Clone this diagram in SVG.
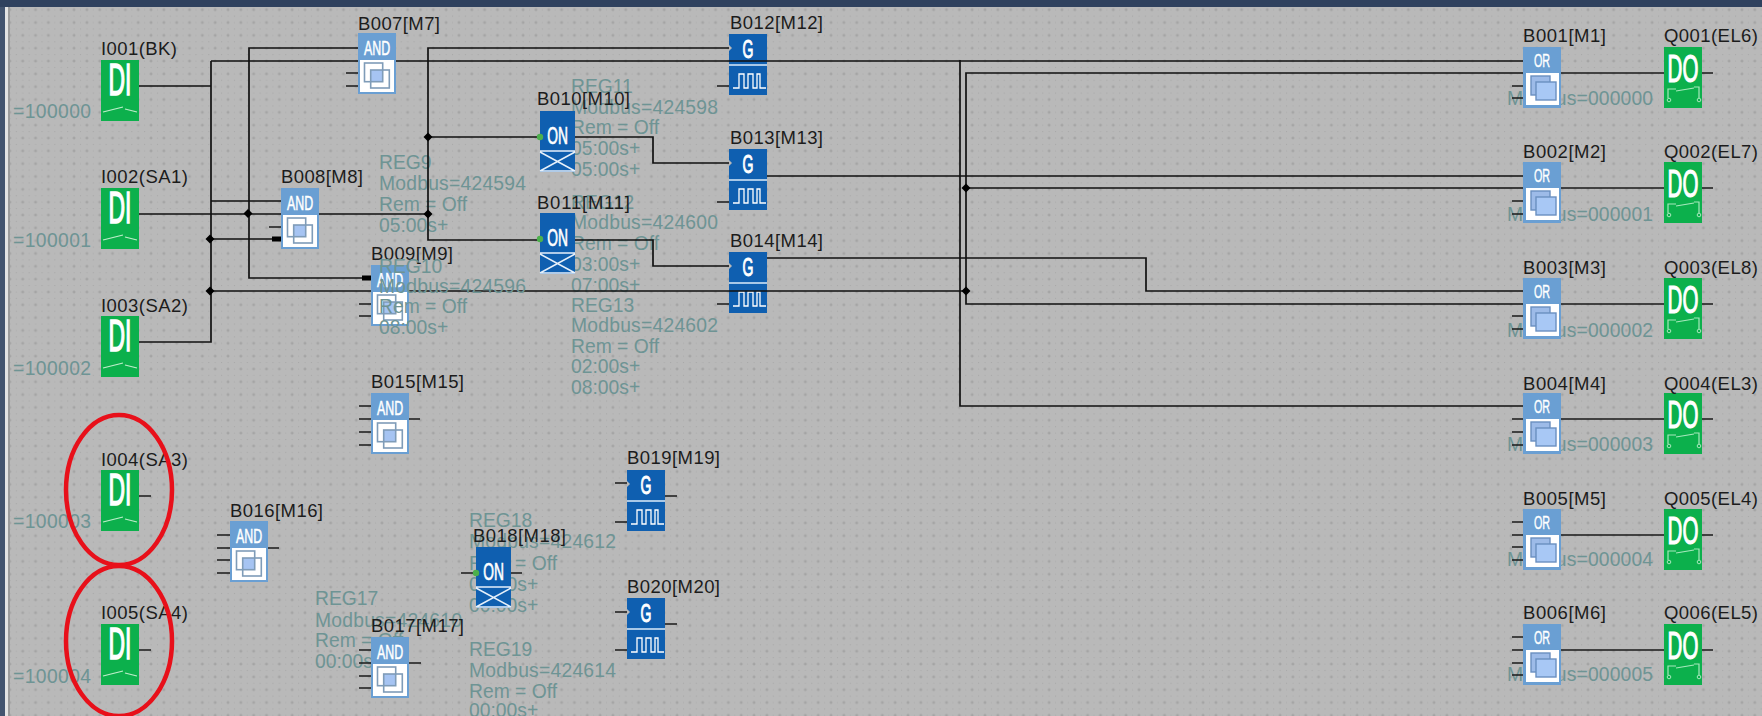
<svg xmlns="http://www.w3.org/2000/svg" width="1762" height="716" viewBox="0 0 1762 716">
<style>
.n{font-family:"Liberation Sans",Arial,sans-serif;font-size:18.500px;fill:#1c1c1c}
.r{font-family:"Liberation Sans",Arial,sans-serif;font-size:19.3px;fill:#6e9494}
.b{font-family:"Liberation Sans",Arial,sans-serif;fill:#fff;text-anchor:middle}
.di{font-size:44px;stroke:#fff;stroke-width:1.6px}
.do{font-size:38px;stroke:#fff;stroke-width:1.2px}
.and{font-size:20px;stroke:#fff;stroke-width:.5px}
.or{font-size:18px;stroke:#fff;stroke-width:.4px}
.on{font-size:23px;stroke:#fff;stroke-width:.7px}
.g{font-size:25px;stroke:#fff;stroke-width:1px}
.w{fill:none;stroke:#111;stroke-width:1.7}
.s{fill:none;stroke:#1a1a1a;stroke-width:1.7}
.j{fill:#000}
.ring{fill:none;stroke:#e8101a;stroke-width:4.5}
</style>
<defs>
<pattern id="grid" x="7.9" y="7.7" width="12.83" height="12.83" patternUnits="userSpaceOnUse">
<path d="M0.5 2H3.5M2 0.5V3.5" stroke="#999" stroke-width="0.8"/>
<rect x="8" y="8" width="1" height="1" fill="#a4a4a4"/>
<rect x="8" y="1.6" width="1" height="1" fill="#a9a9a9"/>
<rect x="1.6" y="8" width="1" height="1" fill="#a9a9a9"/>
</pattern>
<g id="di"><rect width="38" height="61" fill="#0cb04c"/><path d="M2 52L14 49L22 47M24 49L36 52" fill="none" stroke="#bfeecb" stroke-width="1.2"/></g>
<g id="do"><rect width="38" height="61" fill="#0cb04c"/><path d="M4 51V42H12M12 44L30 41M35 51V40H30" fill="none" stroke="#a8e8bc" stroke-width="1.2"/><circle cx="5" cy="53" r="1.800" fill="none" stroke="#a8e8bc"/><circle cx="35" cy="53" r="1.800" fill="none" stroke="#a8e8bc"/></g>
<g id="and"><rect width="38" height="61" fill="#6a9fd3"/><rect x="2" y="27" width="34" height="32" fill="#fff"/><rect x="12.7" y="37" width="12" height="11.7" fill="#a6c4f2"/><rect x="6.5" y="30" width="18.2" height="18.7" fill="none" stroke="#7f9cb8" stroke-width="1.6"/><rect x="12.7" y="37" width="18.6" height="18" fill="none" stroke="#7f9cb8" stroke-width="1.6"/></g>
<g id="or"><rect width="38" height="61" fill="#6a9fd3"/><rect x="3" y="26" width="33" height="32" fill="#fff"/><rect x="8" y="29" width="19" height="19" fill="#9dbbe8" stroke="#6a8fc0" stroke-width="1.4"/><rect x="13" y="35" width="20" height="18" fill="#a8c8f5" stroke="#6a8fc0" stroke-width="1.4"/></g>
<g id="on"><rect width="35" height="61" fill="#0f5fb0"/><path d="M0 40H35M0 60H35M0 41L35 60M0 60L35 41" fill="none" stroke="#e6f0fa" stroke-width="1.5"/><circle cx="0" cy="26" r="3.2" fill="#4cb04c"/></g>
<g id="g"><rect width="38" height="61" fill="#0f5fb0"/><path d="M0 31H38" stroke="#dcebfa" stroke-width="1.6"/><path d="M4 54H10V40H15V54H19V40H24V54H28V40H31V54H37" fill="none" stroke="#fff" stroke-width="1.3"/><path d="M0 11L3 14L0 17Z" fill="#b9b9b9"/></g>
</defs>

<rect width="1762" height="716" fill="#b9b9b9"/>
<rect width="1762" height="716" fill="url(#grid)"/>
<rect x="5" y="7" width="3" height="709" fill="#e4e4e4"/>
<rect x="8" y="7" width="2" height="709" fill="#9c9c9c"/>
<rect x="0" y="0" width="5" height="716" fill="#43546f"/>
<rect x="0" y="0" width="1762" height="7" fill="#2f415e"/>

<g id="B012"><use href="#g" x="729" y="34"/><text class="b g" transform="translate(748,58) scale(.56,1)">G</text><text class="n" x="730" y="29" textLength="93">B012[M12]</text></g>
<g id="B013"><use href="#g" x="729" y="149"/><text class="b g" transform="translate(748,173) scale(.56,1)">G</text><text class="n" x="730" y="144" textLength="93">B013[M13]</text></g>
<g id="B014"><use href="#g" x="729" y="252"/><text class="b g" transform="translate(748,276) scale(.56,1)">G</text><text class="n" x="730" y="247" textLength="93">B014[M14]</text></g>

<g id="registers">
<text class="r" x="13" y="118" textLength="78">=100000</text>
<text class="r" x="13" y="247" textLength="78">=100001</text>
<text class="r" x="13" y="375" textLength="78">=100002</text>
<text class="r" x="13" y="528" textLength="78">=100003</text>
<text class="r" x="13" y="683" textLength="78">=100004</text>
<text class="r" x="1507" y="105" textLength="146">Modbus=000000</text>
<text class="r" x="1507" y="221" textLength="146">Modbus=000001</text>
<text class="r" x="1507" y="337" textLength="146">Modbus=000002</text>
<text class="r" x="1507" y="451" textLength="146">Modbus=000003</text>
<text class="r" x="1507" y="566" textLength="146">Modbus=000004</text>
<text class="r" x="1507" y="681" textLength="146">Modbus=000005</text>
<text class="r" x="379" y="169">REG9</text>
<text class="r" x="379" y="190" textLength="147">Modbus=424594</text>
<text class="r" x="379" y="211">Rem = Off</text>
<text class="r" x="379" y="232">05:00s+</text>
<text class="r" x="571" y="93">REG11</text>
<text class="r" x="571" y="114" textLength="147">Modbus=424598</text>
<text class="r" x="571" y="134">Rem = Off</text>
<text class="r" x="571" y="155">05:00s+</text>
<text class="r" x="571" y="176">05:00s+</text>
<text class="r" x="571" y="209">REG12</text>
<text class="r" x="571" y="229" textLength="147">Modbus=424600</text>
<text class="r" x="571" y="250">Rem = Off</text>
<text class="r" x="571" y="271">03:00s+</text>
<text class="r" x="571" y="292">07:00s+</text>
<text class="r" x="571" y="312">REG13</text>
<text class="r" x="571" y="332" textLength="147">Modbus=424602</text>
<text class="r" x="571" y="353">Rem = Off</text>
<text class="r" x="571" y="373">02:00s+</text>
<text class="r" x="571" y="394">08:00s+</text>
<text class="r" x="315" y="605">REG17</text>
<text class="r" x="315" y="627" textLength="147">Modbus=424610</text>
<text class="r" x="315" y="647">Rem = Off</text>
<text class="r" x="315" y="668">00:00s+</text>
<text class="r" x="469" y="527">REG18</text>
<text class="r" x="469" y="548" textLength="147">Modbus=424612</text>
<text class="r" x="469" y="570">Rem = Off</text>
<text class="r" x="469" y="591">00:00s+</text>
<text class="r" x="469" y="612">00:00s+</text>
<text class="r" x="469" y="656">REG19</text>
<text class="r" x="469" y="677" textLength="147">Modbus=424614</text>
<text class="r" x="469" y="698">Rem = Off</text>
<text class="r" x="469" y="717">00:00s+</text>
</g>

<g id="connectors">
<path class="w" d="M139 86H211M211 61V342H139M211 61H1523"/>
<path class="w" d="M358 48H249V278H365"/>
<path class="w" d="M139 214H428"/>
<path class="w" d="M211 201H281M211 239H275"/>
<path class="w" d="M211 291H966"/>
<path class="w" d="M729 48H428V240H540M428 137H540"/>
<path class="w" d="M575 137H653V163H729M575 240H653V266H729"/>
<path class="w" d="M960 60V406H1523"/>
<path class="w" d="M1523 73H966V304H1523"/>
<path class="w" d="M767 176H1523M966 188H1523"/>
<path class="w" d="M767 258H1146V291H1523"/>
<path class="s" d="M1561 73H1664M1561 188H1664M1561 304H1664M1561 419H1664M1561 535H1664M1561 650H1664"/>
<rect class="j" x="272" y="236.5" width="9" height="5"/>
<rect class="j" x="362" y="275.5" width="9" height="5"/>
<g class="j">
<path d="M248 209L252.5 213.500L248 218L243.500 213.500Z"/>
<path d="M210 234.500L214.500 239L210 243.500L205.500 239Z"/>
<path d="M210 286.500L214.500 291L210 295.500L205.500 291Z"/>
<path d="M428 132.500L432.500 137L428 141.500L423.500 137Z"/>
<path d="M428 209.500L432.500 214L428 218.500L423.500 214Z"/>
<path d="M966 183.500L970.500 188L966 192.500L961.500 188Z"/>
<path d="M966 286.500L970.500 291L966 295.500L961.500 291Z"/>
</g>
<path class="s" d="M346 73H358M346 86H358M269 227H281M359 304H371M359 316H371"/>
<path class="s" d="M717 86H729M717 202H729M717 304H729"/>
<path class="s" d="M1512 86H1523M1512 98H1523M1512 201H1523M1512 214H1523M1512 316H1523M1512 329H1523"/>
<path class="s" d="M1512 419H1523M1512 432H1523M1512 445H1523M1512 522H1523M1512 535H1523M1512 547H1523M1512 560H1523M1512 637H1523M1512 650H1523M1512 663H1523M1512 675H1523"/>
<path class="s" d="M1702 73H1713M1702 188H1713M1702 304H1713M1702 419H1713M1702 535H1713M1702 650H1713"/>
<path class="s" d="M139 496H151M139 650H151"/>
<path class="s" d="M359 406H371M359 419H371M359 432H371M359 445H371M409 419H420"/>
<path class="s" d="M217 535H230M217 548H230M217 560H230M217 573H230M268 548H279"/>
<path class="s" d="M359 650H371M359 663H371M359 676H371M359 688H371M409 663H421"/>
<path class="s" d="M461 573H476M511 573H522"/>
<path class="s" d="M615 483H627M615 522H627M665 496H677M615 612H627M615 650H627M665 624H677"/>
</g>

<g id="I001"><use href="#di" x="101" y="60"/><text class="b di" transform="translate(120,95) scale(.52,1)">DI</text><text class="n" x="101" y="55" textLength="76">I001(BK)</text></g>
<g id="I002"><use href="#di" x="101" y="188"/><text class="b di" transform="translate(120,223) scale(.52,1)">DI</text><text class="n" x="101" y="183" textLength="87">I002(SA1)</text></g>
<g id="I003"><use href="#di" x="101" y="316"/><text class="b di" transform="translate(120,351) scale(.52,1)">DI</text><text class="n" x="101" y="312" textLength="87">I003(SA2)</text></g>
<g id="I004"><use href="#di" x="101" y="470"/><text class="b di" transform="translate(120,505) scale(.52,1)">DI</text><text class="n" x="101" y="466" textLength="87">I004(SA3)</text></g>
<g id="I005"><use href="#di" x="101" y="624"/><text class="b di" transform="translate(120,659) scale(.52,1)">DI</text><text class="n" x="101" y="619" textLength="87">I005(SA4)</text></g>

<g id="B007"><use href="#and" x="358" y="33"/><text class="b and" transform="translate(377,55) scale(.62,1)">AND</text><text class="n" x="358" y="30" textLength="82">B007[M7]</text></g>
<g id="B008"><use href="#and" x="281" y="188"/><text class="b and" transform="translate(300,210) scale(.62,1)">AND</text><text class="n" x="281" y="183" textLength="82">B008[M8]</text></g>
<g id="B009"><use href="#and" x="371" y="265"/><text class="b and" transform="translate(390,287) scale(.62,1)">AND</text><text class="n" x="371" y="260" textLength="82">B009[M9]</text></g>
<g id="B015"><use href="#and" x="371" y="393"/><text class="b and" transform="translate(390,415) scale(.62,1)">AND</text><text class="n" x="371" y="388" textLength="93">B015[M15]</text></g>
<g id="B016"><use href="#and" x="230" y="521"/><text class="b and" transform="translate(249,543) scale(.62,1)">AND</text><text class="n" x="230" y="517" textLength="93">B016[M16]</text></g>
<g id="B017"><use href="#and" x="371" y="637"/><text class="b and" transform="translate(390,659) scale(.62,1)">AND</text><text class="n" x="371" y="632" textLength="93">B017[M17]</text></g>

<g id="B010"><use href="#on" x="540" y="111"/><text class="b on" transform="translate(557.500,144) scale(.6,1)">ON</text><text class="n" x="537" y="105" textLength="93">B010[M10]</text></g>
<g id="B011"><use href="#on" x="540" y="213"/><text class="b on" transform="translate(557.500,246) scale(.6,1)">ON</text><text class="n" x="537" y="209" textLength="93">B011[M11]</text></g>
<g id="B018"><use href="#on" x="476" y="547"/><text class="b on" transform="translate(493.500,580) scale(.6,1)">ON</text><text class="n" x="473" y="542" textLength="93">B018[M18]</text></g>

<g id="B019"><use href="#g" x="627" y="470"/><text class="b g" transform="translate(646,494) scale(.56,1)">G</text><text class="n" x="627" y="464" textLength="93">B019[M19]</text></g>
<g id="B020"><use href="#g" x="627" y="598"/><text class="b g" transform="translate(646,622) scale(.56,1)">G</text><text class="n" x="627" y="593" textLength="93">B020[M20]</text></g>

<g id="B001"><use href="#or" x="1523" y="47"/><text class="b or" transform="translate(1542,67) scale(.6,1)">OR</text><text class="n" x="1523" y="42" textLength="83">B001[M1]</text></g>
<g id="B002"><use href="#or" x="1523" y="162"/><text class="b or" transform="translate(1542,182) scale(.6,1)">OR</text><text class="n" x="1523" y="158" textLength="83">B002[M2]</text></g>
<g id="B003"><use href="#or" x="1523" y="278"/><text class="b or" transform="translate(1542,298) scale(.6,1)">OR</text><text class="n" x="1523" y="274" textLength="83">B003[M3]</text></g>
<g id="B004"><use href="#or" x="1523" y="393"/><text class="b or" transform="translate(1542,413) scale(.6,1)">OR</text><text class="n" x="1523" y="390" textLength="83">B004[M4]</text></g>
<g id="B005"><use href="#or" x="1523" y="509"/><text class="b or" transform="translate(1542,529) scale(.6,1)">OR</text><text class="n" x="1523" y="505" textLength="83">B005[M5]</text></g>
<g id="B006"><use href="#or" x="1523" y="624"/><text class="b or" transform="translate(1542,644) scale(.6,1)">OR</text><text class="n" x="1523" y="619" textLength="83">B006[M6]</text></g>

<g id="Q001"><use href="#do" x="1664" y="47"/><text class="b do" transform="translate(1683,82) scale(.54,1)">DO</text><text class="n" x="1664" y="42" textLength="94">Q001(EL6)</text></g>
<g id="Q002"><use href="#do" x="1664" y="162"/><text class="b do" transform="translate(1683,197) scale(.54,1)">DO</text><text class="n" x="1664" y="158" textLength="94">Q002(EL7)</text></g>
<g id="Q003"><use href="#do" x="1664" y="278"/><text class="b do" transform="translate(1683,313) scale(.54,1)">DO</text><text class="n" x="1664" y="274" textLength="94">Q003(EL8)</text></g>
<g id="Q004"><use href="#do" x="1664" y="393"/><text class="b do" transform="translate(1683,428) scale(.54,1)">DO</text><text class="n" x="1664" y="390" textLength="94">Q004(EL3)</text></g>
<g id="Q005"><use href="#do" x="1664" y="509"/><text class="b do" transform="translate(1683,544) scale(.54,1)">DO</text><text class="n" x="1664" y="505" textLength="94">Q005(EL4)</text></g>
<g id="Q006"><use href="#do" x="1664" y="624"/><text class="b do" transform="translate(1683,659) scale(.54,1)">DO</text><text class="n" x="1664" y="619" textLength="94">Q006(EL5)</text></g>

<g id="REG10">
<text class="r" x="379" y="273">REG10</text>
<text class="r" x="379" y="293" textLength="147">Modbus=424596</text>
<text class="r" x="379" y="313">Rem = Off</text>
<text class="r" x="379" y="334">08:00s+</text>
</g>

<ellipse class="ring" cx="119" cy="490" rx="53" ry="75"/>
<ellipse class="ring" cx="119" cy="641" rx="53" ry="75"/>
</svg>
